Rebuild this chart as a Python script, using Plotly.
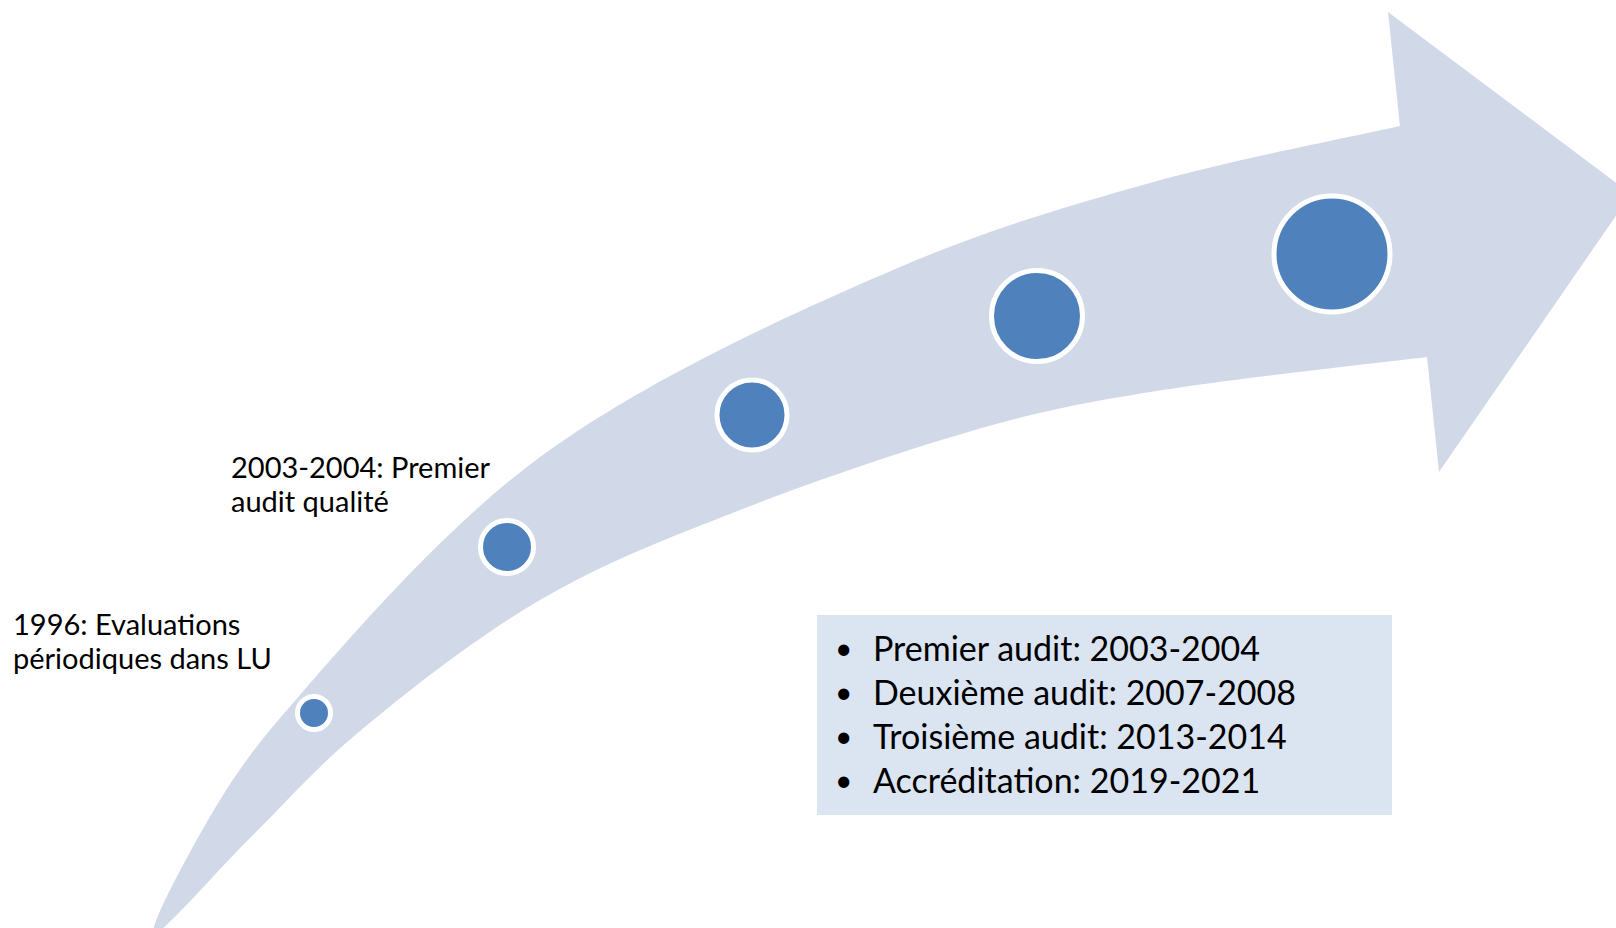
import plotly.graph_objects as go

W, H = 1616, 928

# arrow outline, pixel coordinates of the picture (y downwards)
# upper edge runs tail -> head, lower edge runs head -> tail; both ends tuck into the head
upper_x = [154, 220, 293, 540, 900, 1150, 1400, 1440, 1480]
upper_y = [933, 800, 703, 457, 267, 183, 126, 117, 108]
lower_x = [1500, 1460, 1427, 1150, 1000, 740, 540, 353, 250, 154]
lower_y = [348, 353, 357, 392, 423, 510, 600, 737, 838, 933]
head_x = [1400, 1388, 1631, 1439, 1427]
head_y = [127, 12, 194, 472, 357]

# milestone dots
dot_x = [314, 507, 752, 1037, 1332]
dot_y = [713, 547, 415, 316, 254]
dot_r = [14, 24, 32.5, 43, 55.5]

labels = ["2003-2004: Premier", "audit qualité", "1996: Evaluations", "périodiques dans LU"]
label_x = [229, 229, 11, 11]
label_y = [466, 500, 623, 657]

items = [
    "Premier audit: 2003-2004",
    "Deuxième audit: 2007-2008",
    "Troisième audit: 2013-2014",
    "Accréditation: 2019-2021",
]
item_y = [647, 691, 735, 779]

ARROW = "#d1d9e8"
BOX = "#dbe4f1"
DOT = "#4f81bd"
FONT = "Lato"

fig = go.Figure()

fig.add_trace(go.Scatter(
    x=upper_x + lower_x, y=upper_y + lower_y,
    mode="lines", line=dict(width=0, shape="spline", color=ARROW),
    fill="toself", fillcolor=ARROW, hoverinfo="skip",
))
fig.add_trace(go.Scatter(
    x=head_x, y=head_y,
    mode="lines", line=dict(width=0, color=ARROW),
    fill="toself", fillcolor=ARROW, hoverinfo="skip",
))

for cx, cy, r in zip(dot_x, dot_y, dot_r):
    rr = r + 2.5
    fig.add_shape(type="circle", xref="x", yref="y",
                  x0=cx - rr, x1=cx + rr, y0=cy - rr, y1=cy + rr,
                  fillcolor=DOT, line=dict(color="white", width=5))

fig.add_shape(type="rect", xref="x", yref="y", x0=817, x1=1392, y0=615, y1=815,
              fillcolor=BOX, line=dict(width=0), layer="below")

for t, x, y in zip(labels, label_x, label_y):
    fig.add_annotation(x=x, y=y, text=t, showarrow=False, xanchor="left", yanchor="middle",
                       font=dict(family=FONT, size=29, color="black"))

for t, y in zip(items, item_y):
    fig.add_annotation(x=843, y=y, text="•", showarrow=False, xanchor="center", yanchor="middle",
                       font=dict(family=FONT, size=30, color="black"))
    fig.add_annotation(x=871, y=y, text=t, showarrow=False, xanchor="left", yanchor="middle",
                       font=dict(family=FONT, size=34, color="black"))

fig.update_xaxes(range=[0, W], visible=False, fixedrange=True)
fig.update_yaxes(range=[H, 0], visible=False, fixedrange=True)
fig.update_layout(
    width=W, height=H,
    margin=dict(l=0, r=0, t=0, b=0),
    paper_bgcolor="white", plot_bgcolor="white",
    showlegend=False,
)

fig.write_html("out.html", config={"displayModeBar": False},
               post_script="document.body.style.margin='0';")
